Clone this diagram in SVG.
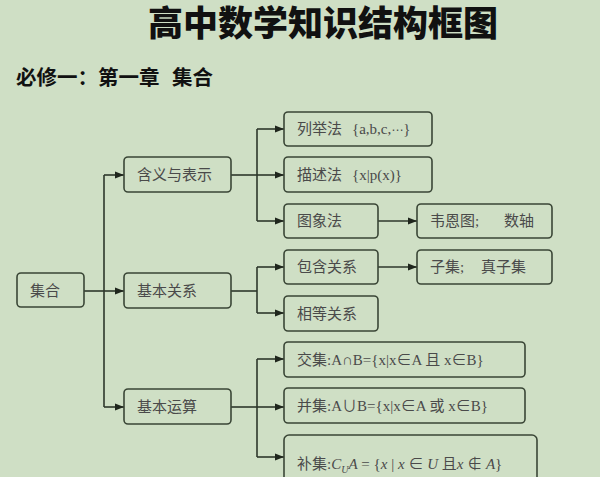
<svg xmlns="http://www.w3.org/2000/svg" width="600" height="477" viewBox="0 0 600 477">
<style>
.bg{fill:#cfdfc5}
.box{fill:#cfdfc5;stroke:#3a4636;stroke-width:1.6}
.t{font-family:"Liberation Serif","Noto Sans CJK SC",serif;font-size:15px;fill:#4a4a4a}
.c{stroke:#2e372b;stroke-width:1.6;fill:none}
.a{marker-end:url(#ah)}
.title{font-family:"Noto Sans CJK SC",sans-serif;font-weight:900;font-size:35px;fill:#111}
.sub{font-family:"Noto Sans CJK SC",sans-serif;font-weight:700;font-size:20.5px;fill:#111}
.i{font-style:italic}
</style>
<defs>
<marker id="ah" markerUnits="userSpaceOnUse" markerWidth="10" markerHeight="8" refX="9" refY="4" orient="auto">
<path d="M0,0.5 L9,4 L0,7.5 z" fill="#1f261d"/>
</marker>
</defs>
<rect class="bg" x="0" y="0" width="600" height="477"/>
<text class="title" x="323" y="36" text-anchor="middle">高中数学知识结构框图</text>
<text class="sub" x="16" y="85">必修一：第一章<tspan x="172">集合</tspan></text>

<g id="connectors">
<path class="c" d="M84,291 H104"/>
<path class="c" d="M104,175 V407"/>
<path class="c a" d="M104,175 H124"/>
<path class="c a" d="M104,291 H124"/>
<path class="c a" d="M104,407 H124"/>
<path class="c" d="M231,175 H257"/>
<path class="c" d="M257,129 V221"/>
<path class="c a" d="M257,129 H284"/>
<path class="c a" d="M257,175 H284"/>
<path class="c a" d="M257,221 H284"/>
<path class="c a" d="M378,221 H417"/>
<path class="c" d="M231,291 H257"/>
<path class="c" d="M257,267 V313"/>
<path class="c a" d="M257,267 H284"/>
<path class="c a" d="M257,313 H284"/>
<path class="c a" d="M378,267 H417"/>
<path class="c" d="M231,407 H257"/>
<path class="c" d="M257,359 V457"/>
<path class="c a" d="M257,359 H284"/>
<path class="c a" d="M257,407 H284"/>
<path class="c a" d="M257,457 H284"/>
</g>

<g id="n-jihe"><rect class="box" x="17" y="273" width="67" height="34" rx="4"/><text class="t" x="30" y="296">集合</text></g>
<g id="n-hanyi"><rect class="box" x="124" y="157" width="107" height="35" rx="4"/><text class="t" x="137" y="180">含义与表示</text></g>
<g id="n-guanxi"><rect class="box" x="124" y="273" width="107" height="35" rx="4"/><text class="t" x="137" y="296">基本关系</text></g>
<g id="n-yunsuan"><rect class="box" x="124" y="389" width="107" height="35" rx="4"/><text class="t" x="137" y="412">基本运算</text></g>

<g id="n-liejufa"><rect class="box" x="284" y="112" width="148" height="34" rx="4"/><text class="t" x="297" y="134">列举法<tspan x="352">{a,b,c,</tspan><tspan font-family="DejaVu Sans" font-size="12">⋯</tspan>}</text></g>
<g id="n-miaoshufa"><rect class="box" x="284" y="157" width="148" height="35" rx="4"/><text class="t" x="297" y="180">描述法<tspan x="352">{x|p(x)}</tspan></text></g>
<g id="n-tuxiangfa"><rect class="box" x="284" y="204" width="94" height="34" rx="4"/><text class="t" x="297" y="226">图象法</text></g>
<g id="n-weien"><rect class="box" x="417" y="204" width="135" height="34" rx="4"/><text class="t" x="430" y="226">韦恩图;<tspan x="504">数轴</tspan></text></g>
<g id="n-baohan"><rect class="box" x="284" y="250" width="94" height="34" rx="4"/><text class="t" x="297" y="272">包含关系</text></g>
<g id="n-ziji"><rect class="box" x="417" y="250" width="135" height="34" rx="4"/><text class="t" x="430" y="272">子集;<tspan x="481">真子集</tspan></text></g>
<g id="n-xiangdeng"><rect class="box" x="284" y="296" width="94" height="35" rx="4"/><text class="t" x="297" y="319">相等关系</text></g>
<g id="n-jiaoji"><rect class="box" x="284" y="342" width="241" height="35" rx="4"/><text class="t" x="297" y="365">交集:A∩B={x|x∈A 且 x∈B}</text></g>
<g id="n-bingji"><rect class="box" x="284" y="388" width="241" height="35" rx="4"/><text class="t" x="297" y="411">并集:A∪B={x|x∈A 或 x∈B}</text></g>
<g id="n-buji"><rect class="box" x="284" y="435" width="253" height="60" rx="5"/><text class="t" x="297" y="469" font-size="16.5">补集:<tspan class="i">C</tspan><tspan class="i" font-size="10" dy="4">U</tspan><tspan class="i" dy="-4">A</tspan> = {<tspan class="i">x</tspan> | <tspan class="i">x</tspan> ∈ <tspan class="i">U</tspan> 且<tspan class="i">x</tspan> ∉ <tspan class="i">A</tspan>}</text></g>
</svg>
